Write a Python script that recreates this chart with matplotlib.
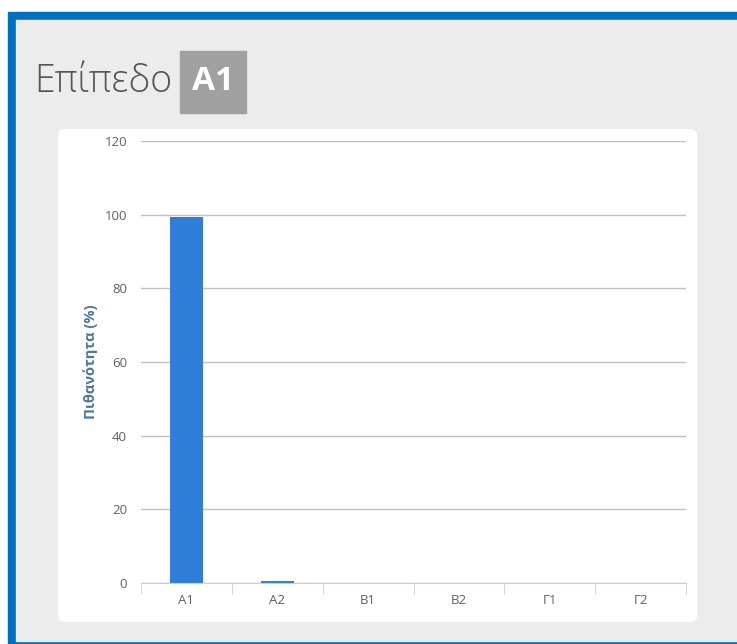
import matplotlib.pyplot as plt
from matplotlib.patches import Rectangle, FancyBboxPatch

# probability per level
levels = ["A1", "A2", "B1", "B2", "Γ1", "Γ2"]
probability = [99.4, 0.6, 0.0, 0.0, 0.0, 0.0]
y_ticks = [0, 20, 40, 60, 80, 100, 120]
best_level = "A1"

W, H = 737, 644


def px(x, y):
    # pixel coords (top-left origin) -> figure fraction
    return x / W, 1 - y / H


def main():
    fig = plt.figure(figsize=(W / 100, H / 100), dpi=100)
    fig.patch.set_facecolor("white")

    # blue frame and grey panel
    fig.patches.append(Rectangle(px(8, 644), (W - 8) / W, (644 - 12) / H,
                                 transform=fig.transFigure, color="#0070c0", zorder=-3))
    fig.patches.append(Rectangle(px(16, 641), (W - 16) / W, (641 - 20) / H,
                                 transform=fig.transFigure, color="#ececec", zorder=-2))
    # white card
    x0, y0 = px(58, 622)
    x1, y1 = px(697, 129)
    fig.patches.append(FancyBboxPatch((x0, y0), x1 - x0, y1 - y0,
                                      boxstyle="round,pad=0,rounding_size=0.01",
                                      transform=fig.transFigure, fc="white", ec="none",
                                      zorder=-1))

    # heading
    fig.text(*px(34, 82), "Επίπεδο", fontsize=27, fontfamily="Open Sans",
             fontweight="light", color="#555555", va="center", ha="left")
    bx, by = px(180, 113)
    fig.patches.append(Rectangle((bx, by), 66 / W, 62 / H, transform=fig.transFigure,
                                 color="#a0a0a0", zorder=1))
    fig.text(*px(213, 82), best_level, fontsize=24, fontfamily="Open Sans",
             fontweight="bold", color="white", va="center", ha="center", zorder=2)

    l, b = px(141, 583)
    ax = fig.add_axes([l, b, 545 / W, 442 / H])
    ax.set_zorder(5)
    ax.set_facecolor("none")
    xs = range(len(levels))
    ax.bar(xs, probability, width=0.365, color="#2f7ed8", zorder=3)
    ax.set_xlim(-0.5, len(levels) - 0.5)
    ax.set_ylim(0, 120)
    ax.set_yticks(y_ticks)
    ax.yaxis.grid(True, color="#c0c0c0", lw=1)
    ax.set_axisbelow(True)
    for s in ["top", "right", "left"]:
        ax.spines[s].set_visible(False)
    ax.spines["bottom"].set_color("#c0d0e0")
    ax.spines["bottom"].set_zorder(4)

    ax.set_xticks(list(xs))
    ax.set_xticklabels(levels)
    ax.set_xticks([i - 0.5 for i in range(len(levels) + 1)], minor=True)
    ax.tick_params(axis="x", which="major", length=0, pad=8, labelsize=9.5, labelcolor="#606060")
    ax.tick_params(axis="x", which="minor", length=8, color="#c0d0e0", direction="out")
    ax.tick_params(axis="y", length=0, pad=10, labelsize=9.5, labelcolor="#606060")
    for t in ax.get_xticklabels() + ax.get_yticklabels():
        t.set_fontfamily("Open Sans")

    ax.set_ylabel("Πιθανότητα (%)", fontsize=10.5, fontweight="bold", color="#4d759e",
                  fontfamily="Open Sans", labelpad=5)

    plt.savefig("out.png", dpi=100)


if __name__ == "__main__":
    main()
